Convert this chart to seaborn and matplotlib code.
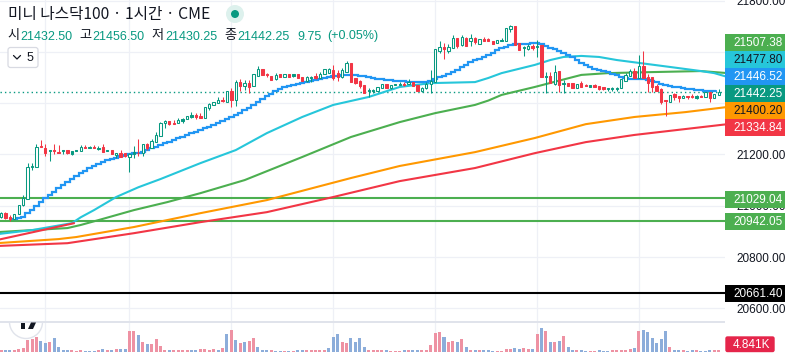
import matplotlib
matplotlib.use("Agg")
import matplotlib.pyplot as plt
from matplotlib.patches import Circle, FancyBboxPatch, Rectangle, Polygon
import numpy as np
import pandas as pd
import seaborn as sns

opens = [20955,20971,20955,20947,20967,21003,21026,21151,21151,21233,
 21225,21217,21217,21209,21217,21217,21213,21217,21213,21229,
 21229,21229,21225,21229,21217,21217,21198,21205,21205,21190,
 21209,21207,21205,21240,21225,21248,21272,21322,21330,21322,
 21322,21338,21338,21354,21354,21350,21342,21381,21393,21400,
 21412,21404,21447,21412,21482,21467,21478,21467,21506,21533,
 21513,21506,21494,21513,21502,21513,21513,21513,21502,21486,
 21502,21506,21498,21513,21517,21529,21517,21502,21521,21556,
 21498,21486,21471,21451,21451,21447,21459,21474,21459,21473,
 21474,21474,21474,21482,21471,21447,21459,21474,21482,21603,
 21619,21603,21615,21654,21626,21654,21642,21654,21630,21650,
 21650,21642,21634,21646,21642,21689,21701,21634,21619,21611,
 21623,21623,21626,21506,21506,21474,21525,21478,21478,21478,
 21459,21478,21471,21471,21471,21467,21463,21459,21459,21459,
 21459,21486,21506,21525,21498,21545,21502,21502,21467,21455,
 21412,21404,21435,21428,21420,21428,21426,21428,21428,21424,
 21443,21420,21432.5]
highs = [20975,20975,20963,20967,21003,21042,21167,21167,21240,21256,
 21240,21217,21240,21236,21217,21217,21213,21217,21236,21236,
 21233,21236,21233,21240,21217,21217,21205,21217,21205,21205,
 21233,21260,21240,21244,21260,21287,21326,21334,21330,21334,
 21342,21342,21350,21365,21361,21361,21385,21400,21404,21424,
 21424,21447,21459,21490,21494,21490,21490,21513,21545,21533,
 21518,21506,21517,21513,21513,21513,21513,21513,21502,21506,
 21506,21517,21521,21533,21537,21549,21529,21537,21564,21556,
 21498,21490,21471,21459,21455,21463,21474,21474,21471,21473,
 21482,21482,21494,21482,21471,21461,21482,21529,21611,21642,
 21634,21630,21665,21654,21665,21658,21669,21658,21650,21658,
 21654,21642,21646,21654,21693,21704,21701,21634,21623,21630,
 21630,21646,21626,21521,21521,21549,21525,21490,21478,21478,
 21474,21486,21474,21471,21474,21467,21463,21459,21463,21463,
 21494,21517,21533,21537,21588,21603,21513,21502,21474,21459,
 21412,21432,21439,21428,21432,21428,21435,21432,21430,21443,
 21443,21435,21456.5]
lows = [20951,20947,20940,20947,20967,21000,21026,21139,21151,21229,
 21194,21174,21201,21205,21201,21201,21198,21213,21213,21225,
 21225,21225,21217,21209,21213,21201,21186,21190,21190,21131,
 21186,21194,21194,21217,21225,21248,21272,21303,21315,21318,
 21322,21322,21338,21342,21338,21342,21342,21373,21393,21400,
 21404,21404,21385,21389,21447,21451,21439,21467,21506,21510,
 21502,21490,21490,21502,21502,21502,21502,21498,21486,21482,
 21482,21494,21498,21513,21517,21490,21486,21498,21521,21482,
 21474,21459,21439,21424,21439,21447,21459,21459,21455,21469,
 21472,21467,21474,21467,21447,21443,21455,21439,21482,21595,
 21572,21595,21615,21615,21623,21623,21623,21630,21630,21642,
 21642,21630,21634,21642,21642,21677,21626,21607,21584,21607,
 21607,21580,21502,21439,21478,21470,21443,21439,21467,21459,
 21459,21463,21467,21463,21463,21451,21451,21447,21447,21447,
 21459,21486,21506,21498,21498,21498,21443,21443,21447,21396,
 21350,21404,21412,21404,21420,21416,21420,21416,21424,21424,
 21404,21420,21430.25]
closes = [20971,20951,20947,20967,21003,21030,21151,21155,21229,21229,
 21205,21213,21213,21205,21213,21205,21201,21213,21229,21225,
 21225,21225,21221,21209,21213,21201,21205,21190,21194,21201,
 21201,21205,21240,21225,21252,21276,21322,21330,21318,21318,
 21334,21330,21350,21346,21346,21342,21385,21396,21404,21412,
 21408,21447,21412,21482,21467,21478,21463,21513,21533,21510,
 21510,21490,21510,21502,21513,21502,21506,21498,21486,21502,
 21498,21498,21513,21533,21533,21498,21502,21529,21556,21482,
 21478,21467,21439,21447,21447,21463,21474,21459,21471,21469,
 21472,21471,21482,21467,21447,21459,21474,21486,21611,21619,
 21611,21619,21654,21623,21658,21623,21654,21638,21650,21642,
 21642,21630,21646,21642,21693,21701,21626,21607,21615,21623,
 21615,21619,21502,21502,21478,21521,21471,21474,21467,21459,
 21474,21463,21467,21463,21463,21455,21455,21455,21455,21455,
 21494,21510,21525,21498,21545,21498,21478,21463,21447,21404,
 21408,21432,21424,21420,21428,21424,21424,21420,21424,21443,
 21420,21435,21442.25]
green_filled = [11,14,16,17,20,22,24,30,41,43,66,70,83,84,89,90,113,118,121,123,127,133,137,138,139,157]

volume_k = [4.8,4.8,4.8,4.8,6.4,9.6,28,30.4,36,26.4,
 21.6,24,33.6,12,4.8,4.8,4.8,2.4,4.8,2.4,
 2.4,2.4,4.8,7.2,4.8,4.8,7.2,7.2,7.2,50.4,
 50.4,40.8,24,19.2,19.2,31.2,14.4,4.8,4.8,4.8,
 4.8,4.8,4.8,4.8,4.8,7.2,7.2,4.8,7.2,4.8,
 9.6,43.2,52.8,28.8,21.6,24,26.4,33.6,12,4.8,
 4.8,4.8,2.4,2.4,2.4,2.4,2.4,4.8,4.8,4.8,
 4.8,4.8,4.8,4.8,9.6,36,43.2,24,21.6,33.6,
 24,33.6,12,4.8,4.8,4.8,4.8,4.8,2.4,2.4,
 2.4,4.8,4.8,4.8,4.8,4.8,4.8,16.8,45.6,48,
 36,24,26.4,24,31.2,12,4.8,4.8,4.8,4.8,
 4.8,2.4,2.4,2.4,7.2,7.2,9.6,7.2,9.6,7.2,
 7.2,43.2,57.6,50.4,24,24,26.4,38.4,12,4.8,
 4.8,4.8,2.4,2.4,2.4,4.8,2.4,2.4,4.8,4.8,
 4.8,4.8,7.2,9.6,50.4,52.8,48,33.6,21.6,31.2,
 50.4,12,4.8,4.8,4.8,2.4,4.8,4.8,2.4,2.4,
 4.8,4.8,4.841]
volume_dir = ("d u u d d d d d d u "
 "u d u u u u d d d u "
 "u u d u d u d u u d "
 "d u d u d d d d u d "
 "d d d u u d d d d u "
 "d u d u d u d d u u "
 "u d u u d u d u u d "
 "d d d d u u u d d u "
 "u u u d d d d u d d "
 "d u d u u d d d d d "
 "u d d u d u d u d u "
 "u u d d d d u u d d "
 "u d u d u d u d u u "
 "d u u d d u u u d d "
 "d d d u d u u u u u "
 "u d u u d u u d u u "
 "u d d").split()

ma_blue = [20947,20951,20955,20971,20983,20999,21014,21030,21042,21053,21069,21081,21092,21104,21116,21128,21135,21147,21155,21163,
 21170,21178,21182,21186,21194,21198,21201,21205,21205,21209,21217,21225,21229,21236,21244,21248,21256,21264,21268,21276,
 21283,21287,21295,21303,21307,21315,21322,21330,21338,21346,21354,21361,21373,21381,21393,21404,21416,21428,21435,21447,
 21455,21463,21467,21471,21474,21478,21482,21486,21490,21494,21498,21502,21506,21506,21510,21510,21510,21510,21506,21506,
 21502,21498,21494,21494,21490,21490,21486,21486,21486,21482,21482,21482,21482,21482,21486,21494,21502,21506,21513,21521,
 21529,21541,21549,21560,21568,21572,21580,21588,21595,21607,21615,21619,21626,21630,21630,21630,21630,21634,21634,21630,
 21623,21615,21611,21603,21595,21588,21580,21568,21556,21549,21541,21533,21529,21525,21521,21513,21510,21502,21498,21494,
 21494,21494,21494,21490,21486,21482,21474,21471,21467,21463,21463,21459,21455,21455,21451,21451,21447,21447,21447,21446.5]
ma_blue_start = 3

cyan_bars = [-1,7,16,18,21,26,31,36,45,53,60,68,75,83,90,97,107,110,113,120.5,124,127,131,135,139,151,158,161,164]
cyan_vals = [20889,20905,20932,20955,20983,21034,21072,21104,21166,21217,21283,21346,21393,21424,21463,21478,21482,21498,21517,21549,21568,21580,21584,21580,21568,21541,21525,21517,21502]
green_bars = [-1,15,18,22,30,37.5,45,55,68,79,90,98,107,110,113,120.5,126.5,131,137,147,158,164]
green_vals = [20897,20913,20925,20944,20983,21014,21049,21100,21190,21268,21326,21361,21393,21410,21432,21463,21490,21510,21517,21521,21525,21517]
orange_bars = [-1,13,17,30,45,60,79,90,107,120.5,132,143,154.5,164]
orange_vals = [20854,20870,20878,20917,20971,21022,21108,21155,21209,21264,21318,21346,21365,21385]
red_bars = [-1,15,30,45,60,75,90,107,120.5,132,143,154.5,164]
red_vals = [20843,20854,20893,20936,20975,21034,21096,21147,21205,21248,21276,21299,21318]
red2_bars = [-1,16.5]
red2_vals = [20866,20932]

level_greens = [21029.04, 20942.05]
level_black = 20661.40
last_price = 21442.25
session_bars = [10,29,52,75,98,121,144]
price_ticks = [20600,20800,21000,21200,21400,21600,21800]
shown_ticks = [20600,20800,21000,21200,21800]

# label text, box top, box colour, text colour
labels = [("21507.38",34,"#4CAF50","white"),("21477.80",51,"#26C6DA","#131722"),
          ("21446.52",68,"#2196F3","white"),("21442.25",85,"#089981","white"),
          ("21400.20",102,"#FF9800","#131722"),("21334.84",119,"#F23645","white"),
          ("21029.04",191,"#4CAF50","white"),("20942.05",213,"#4CAF50","white"),
          ("20661.40",285,"#000000","white")]
title_text = "미니 나스닥100 · 1시간 · CME"
ohlc_items = [("시",7,"21432.50",20.7),("고",79,"21456.50",92.7),("저",151.7,"21430.25",165.7),("종",224,"21442.25",237)]

TEAL = "#089981"; RED = "#F23645"; GRID = "#eef0f6"; INK = "#131722"
sns.set_theme(style="white")
LAT = "Liberation Sans"
CJK = ["Noto Sans CJK KR", "DejaVu Sans"]
W, H = 785, 357
fig = plt.figure(figsize=(W/100, H/100), dpi=100, facecolor="white")

def axpx(x0, y0, x1, y1, **kw):
    return fig.add_axes([x0/W, 1-y1/H, (x1-x0)/W, (y1-y0)/H], **kw)

ax = axpx(0, 0, 725, 321)
vol = axpx(0, 321, 725, 352)
for a in (ax, vol):
    for s in a.spines.values():
        s.set_visible(False)
    a.set_facecolor("white")

xlim = (-1/4.43, 724/4.43)
n = len(opens)
bars = np.arange(n)

# moving averages
line_kw = dict(ax=ax, estimator=None, errorbar=None, legend=False, linewidth=1.5, zorder=3)
sns.lineplot(x=red_bars, y=red_vals, color="#F23645", **line_kw)
sns.lineplot(x=orange_bars, y=orange_vals, color="#FF9800", **line_kw)
sns.lineplot(x=green_bars, y=green_vals, color="#4CAF50", **line_kw)
sns.lineplot(x=cyan_bars, y=cyan_vals, color="#26C6DA", **line_kw)
sns.lineplot(x=red2_bars, y=red2_vals, color="#F23645", **line_kw)
blue_x = np.arange(ma_blue_start, ma_blue_start+len(ma_blue)) - 0.5
ax.step(blue_x, ma_blue, where="post", color="#2196F3", lw=1.6, zorder=3.5, solid_joinstyle="miter")

# levels
for v in level_greens:
    ax.axhline(v, color="#4CAF50", lw=1.5, zorder=2.5)
ax.axhline(level_black, color="black", lw=1.5, zorder=2.5)
ax.axhline(last_price, color=TEAL, lw=1.0, ls=(0, (1, 2.2)), zorder=2)

# candles
for i in range(n):
    o, h, l, c = opens[i], highs[i], lows[i], closes[i]
    hollow = c >= o
    col = TEAL if (hollow or i in green_filled) else RED
    ax.vlines(i, l, h, color=col, lw=0.75, zorder=4)
    ax.bar(i, max(abs(c-o), 1), bottom=min(o, c), width=0.52,
           facecolor="white" if hollow else col, edgecolor=col, linewidth=0.75, zorder=5)

ax.set_xlim(*xlim)
ax.set_ylim(20550.7, 21802)
ax.set_xticks(session_bars)
ax.set_xticklabels([])
ax.set_yticks(price_ticks)
ax.set_yticklabels([f"{t:.2f}" if t in shown_ticks else "" for t in price_ticks])
ax.yaxis.tick_right()
ax.tick_params(axis="y", length=0, pad=8, labelcolor=INK, labelsize=8.5)
ax.tick_params(axis="x", length=0)
for t in ax.get_yticklabels():
    t.set_fontfamily(LAT)
ax.grid(True, color=GRID, lw=0.9, zorder=0)
ax.set_axisbelow(True)

# volume
vdf = pd.DataFrame({"bar": bars, "k": volume_k})
sns.barplot(data=vdf, x="bar", y="k", color="#8CADDA", native_scale=True, width=0.68,
            ax=vol, saturation=1, zorder=3, errorbar=None)
for patch, d in zip(vol.patches, volume_dir):
    patch.set_facecolor("#8CADDA" if d == "u" else "#EE92A3")
    patch.set_edgecolor("none")
vol.set_xlim(*xlim)
vol.set_ylim(0, 74.4)
vol.set_xticks(session_bars)
vol.set_xticklabels([])
vol.set_yticks([])
vol.set_xlabel(""); vol.set_ylabel("")
vol.tick_params(length=0)
vol.grid(True, axis="x", color=GRID, lw=0.9)
vol.set_axisbelow(True)

# overlay in figure pixels: chrome, labels
ov = fig.add_axes([0, 0, 1, 1], zorder=10)
ov.set_xlim(0, W); ov.set_ylim(H, 0); ov.axis("off")
ov.patch.set_alpha(0)
ov.plot([0, 725], [321.5, 321.5], color="#e0e3eb", lw=1.4, solid_capstyle="butt")
for txt, top, bg, fg in labels:
    ov.add_patch(Rectangle((725, top), 60, 17, facecolor=bg, edgecolor="none"))
    ov.text(733, top+8.8, txt, color=fg, fontsize=8.5, family=LAT, va="center", ha="left")
ov.add_patch(FancyBboxPatch((726, 337), 48, 14.5, boxstyle="round,pad=0,rounding_size=1.5",
                            facecolor="#E5254A", edgecolor="#E5254A", lw=1))
ov.text(733, 344.8, "4.841K", color="white", fontsize=8.5, family=LAT, va="center", ha="left")

# logo lower half
circ = Circle((26, 322), 16.5, facecolor="white", edgecolor="#e0e3eb", lw=1.0, zorder=3)
ov.add_patch(circ)
circ.set_clip_path(Rectangle((0, 322.5), 100, 40, transform=ov.transData))
ov.add_patch(Rectangle((21, 322.5), 4, 6.5, facecolor=INK, edgecolor="none", zorder=4))
ov.add_patch(Polygon([[31, 322.5], [36, 322.5], [33, 329], [28, 329]], closed=True, facecolor=INK, edgecolor="none", zorder=4))

# header
ov.text(8, 15, title_text, color=INK, fontsize=11.3, family=CJK, va="center", ha="left")
ov.add_patch(Circle((235, 14), 9, facecolor="#DDF1ED", edgecolor="none"))
ov.add_patch(Circle((235, 14), 4, facecolor=TEAL, edgecolor="none"))
for lab, lx, val, vx in ohlc_items:
    ov.text(lx, 36, lab, color=INK, fontsize=9.5, family=CJK, va="center", ha="left")
    ov.text(vx, 36.5, val, color=TEAL, fontsize=9, family=LAT, va="center", ha="left")
ov.text(297, 36.5, "9.75", color=TEAL, fontsize=9, family=LAT, va="center", ha="left")
ov.text(327, 36.5, "(+0.05%)", color=TEAL, fontsize=9, family=LAT, va="center", ha="left")

# collapse button
ov.add_patch(FancyBboxPatch((8, 47.5), 30, 20, boxstyle="round,pad=0,rounding_size=2.5",
                            facecolor="white", edgecolor="#d8dae2", lw=0.9))
ov.plot([13.5, 17, 20.5], [55.5, 59, 55.5], color=INK, lw=0.9)
ov.text(27, 58, "5", color=INK, fontsize=9, family=LAT, va="center", ha="left")

fig.savefig("out.png", dpi=100, facecolor="white")
